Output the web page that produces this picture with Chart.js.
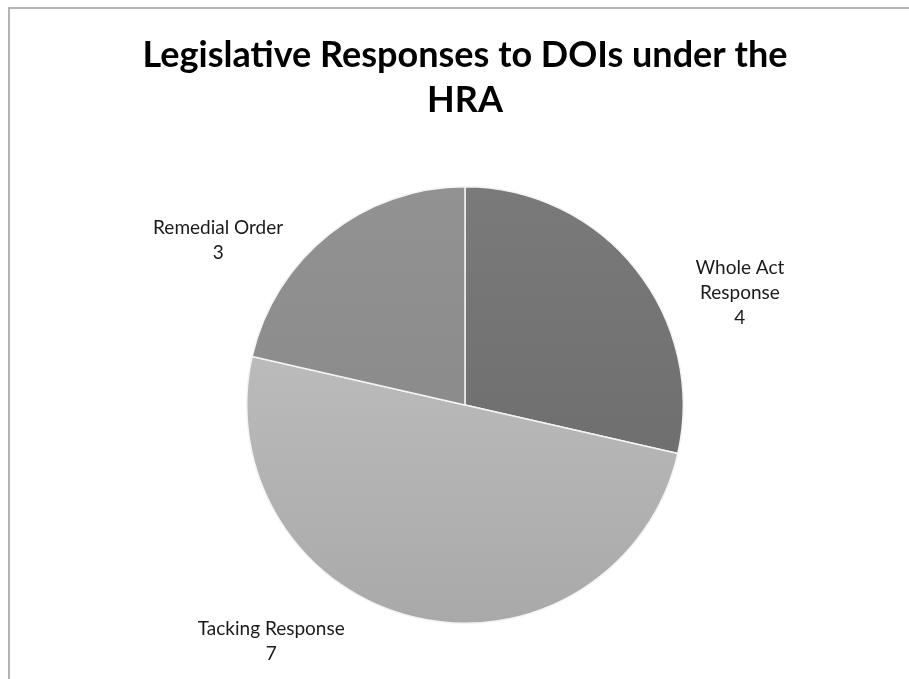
<!DOCTYPE html>
<html>
<head>
<meta charset="utf-8">
<script src="https://cdn.jsdelivr.net/npm/chart.js@4"></script>
<style>
  html, body { margin: 0; padding: 0; background: #fff; }
  #wrap { position: relative; width: 909px; height: 679px; }
  #frame { position: absolute; left: 8px; top: 7px; right: 0; bottom: 0;
           border-left: 2px solid #b4b4b4; border-top: 2px solid #b4b4b4; }
  canvas { position: absolute; left: 0; top: 0; }
</style>
</head>
<body>
<div id="wrap">
  <div id="frame"></div>
  <canvas id="myChart" width="909" height="679"></canvas>
</div>
<script>
const categories = ['Whole Act Response', 'Tacking Response', 'Remedial Order'];
const counts = [4, 7, 3];
const labelLines = [['Whole Act', 'Response'], ['Tacking Response'], ['Remedial Order']];
const titleLines = ['Legislative Responses to DOIs under the', 'HRA'];

// shades (top, bottom) for each slice
const shades = [['#7a7a7a', '#686868'], ['#c6c6c6', '#a9a9a9'], ['#929292', '#858585']];
// Excel "best fit" puts labels a bit off the slice middle
const labelNudge = [16.4, 26.5, -17.7];
const labelDist = [1.36, 1.40, 1.36];

const sliceFill = (ctx) => {
    const area = ctx.chart.chartArea;
    if (!area) return shades[ctx.dataIndex][0];
    const g = ctx.chart.ctx.createLinearGradient(0, area.top, 0, area.bottom);
    g.addColorStop(0, shades[ctx.dataIndex][0]);
    g.addColorStop(1, shades[ctx.dataIndex][1]);
    return g;
};

const outsideLabels = {
    id: 'outsideLabels',
    afterDatasetsDraw(chart) {
        const c = chart.ctx;
        const arcs = chart.getDatasetMeta(0).data;
        c.save();
        c.font = '19px Lato';
        c.fillStyle = '#1a1a1a';
        c.textAlign = 'center';
        c.textBaseline = 'middle';
        arcs.forEach((arc, i) => {
            const mid = (arc.startAngle + arc.endAngle) / 2 + labelNudge[i] * Math.PI / 180;
            const r = arc.outerRadius * labelDist[i];
            const x = arc.x + Math.cos(mid) * r;
            const y = arc.y + Math.sin(mid) * r;
            const lines = labelLines[i].concat([String(counts[i])]);
            const lh = 25;
            const y0 = y - (lines.length - 1) * lh / 2;
            lines.forEach((t, k) => c.fillText(t, x, y0 + k * lh));
        });
        c.restore();
    }
};

var ctx = document.getElementById('myChart').getContext('2d');

var myChart = new Chart(ctx, {
    type: 'pie',
    data: {
        labels: categories,
        datasets: [{
            data: counts,
            backgroundColor: sliceFill,
            borderColor: '#f4f4f4',
            borderWidth: 1.5
        }]
    },
    options: {
        responsive: false,
        animation: false,
        layout: {
            padding: { left: 21, right: 0, top: 0, bottom: 55 }
        },
        plugins: {
            legend: { display: false },
            tooltip: { enabled: false },
            title: {
                display: true,
                text: titleLines,
                color: '#000',
                font: { family: 'Lato', size: 36, weight: 'bold', lineHeight: 1.25 },
                padding: { top: 33, bottom: 63 }
            }
        }
    },
    plugins: [outsideLabels]
});
</script>
</body>
</html>
